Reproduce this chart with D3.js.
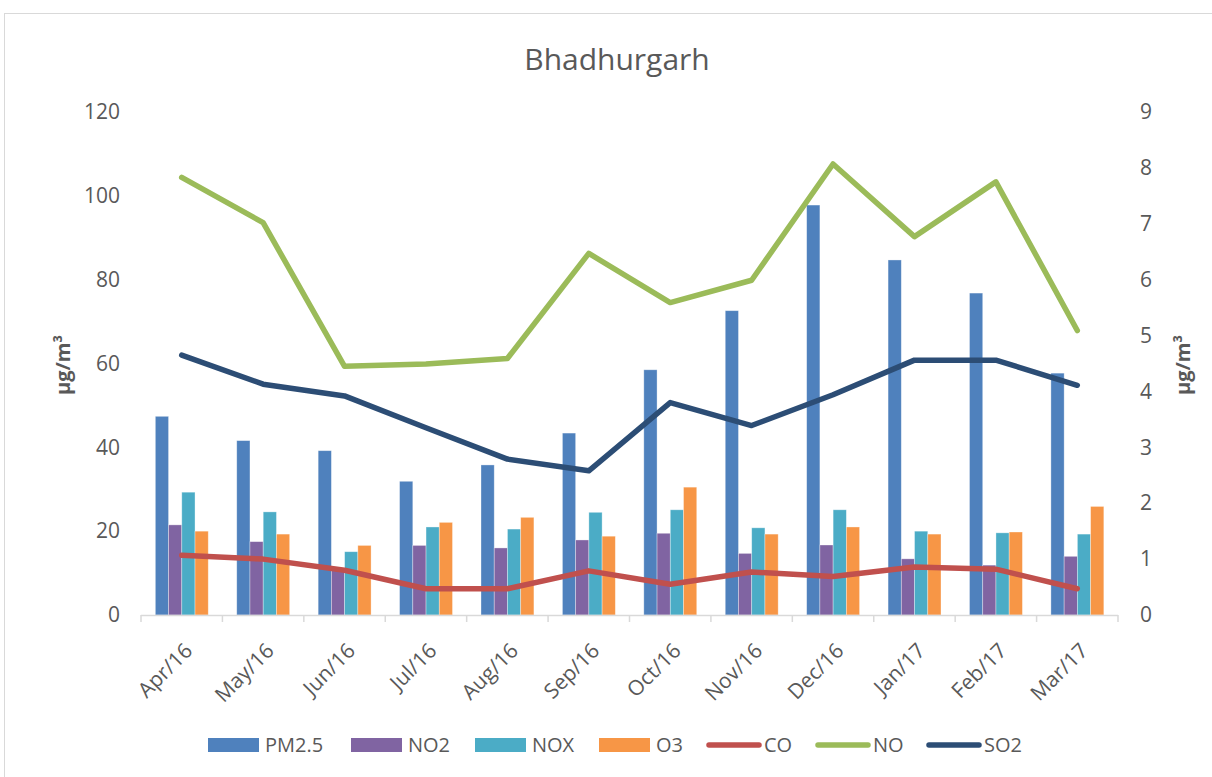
<!DOCTYPE html>
<html>
<head>
<meta charset="utf-8">
<script src="https://cdn.jsdelivr.net/npm/d3@7"></script>
<style>
  html, body { margin: 0; padding: 0; background: #fff; }
  svg { display: block; font-family: "Open Sans", sans-serif; }
</style>
</head>
<body>
<svg id="chart" width="1212" height="777"></svg>
<script>
// ---- data ----
const months = ["Apr/16","May/16","Jun/16","Jul/16","Aug/16","Sep/16","Oct/16","Nov/16","Dec/16","Jan/17","Feb/17","Mar/17"];
const pm25 = [47.4, 41.6, 39.2, 31.9, 35.8, 43.4, 58.5, 72.6, 97.8, 84.7, 76.8, 57.7];
const no2  = [21.5, 17.5, 11.0, 16.6, 16.0, 17.9, 19.5, 14.7, 16.7, 13.4, 11.9, 14.0];
const nox  = [29.3, 24.6, 15.1, 21.0, 20.5, 24.5, 25.1, 20.8, 25.1, 20.0, 19.6, 19.3];
const o3   = [20.0, 19.3, 16.6, 22.1, 23.3, 18.8, 30.5, 19.3, 21.0, 19.3, 19.8, 25.9];
const co   = [1.07, 1.00, 0.80, 0.47, 0.47, 0.79, 0.55, 0.77, 0.69, 0.86, 0.82, 0.47];
const no   = [7.83, 7.02, 4.45, 4.49, 4.59, 6.47, 5.59, 5.99, 8.07, 6.77, 7.75, 5.09];
const so2  = [4.65, 4.13, 3.92, 3.35, 2.79, 2.58, 3.80, 3.39, 3.94, 4.56, 4.56, 4.11];
const leftTicks = [0, 20, 40, 60, 80, 100, 120];
const rightTicks = [0, 1, 2, 3, 4, 5, 6, 7, 8, 9];
const barSeries = [
  {name: "PM2.5", values: pm25, color: "#4F81BD"},
  {name: "NO2",   values: no2,  color: "#8064A2"},
  {name: "NOX",   values: nox,  color: "#4BACC6"},
  {name: "O3",    values: o3,   color: "#F79646"}
];
const lineSeries = [
  {name: "CO",  values: co,  color: "#C0504D"},
  {name: "NO",  values: no,  color: "#9BBB59"},
  {name: "SO2", values: so2, color: "#2C4D75"}
];

// ---- layout ----
const svg = d3.select("#chart");
const plot = {left: 141, right: 1118, top: 112, bottom: 615};
const textColor = "#595959";

// frame
svg.append("rect").attr("x", 4.5).attr("y", 13.5).attr("width", 1230).attr("height", 800)
  .attr("fill", "none").attr("stroke", "#d9d9d9").attr("stroke-width", 1);

const x = d3.scaleBand().domain(months).range([plot.left, plot.right]).paddingInner(0).paddingOuter(0);
const xs = d3.scaleBand().domain(barSeries.map(d => d.name))
  .range([x.bandwidth() * 0.176, x.bandwidth() * 0.826]);
const yL = d3.scaleLinear().domain([0, 120]).range([plot.bottom, plot.top]);
const yR = d3.scaleLinear().domain([0, 9]).range([plot.bottom, plot.top]);

// title
svg.append("text").attr("x", 617).attr("y", 70).attr("text-anchor", "middle")
  .attr("font-size", 30).attr("fill", textColor).text("Bhadhurgarh");

// left axis
const axL = svg.append("g").attr("transform", `translate(${plot.left},0)`)
  .call(d3.axisLeft(yL).tickValues(leftTicks).tickSize(0).tickPadding(21));
axL.select(".domain").remove();
axL.selectAll("text").attr("font-size", 21).attr("fill", textColor).attr("font-family", "Open Sans, sans-serif");

// right axis
const axR = svg.append("g").attr("transform", `translate(${plot.right},0)`)
  .call(d3.axisRight(yR).tickValues(rightTicks).tickSize(0).tickPadding(22));
axR.select(".domain").remove();
axR.selectAll("text").attr("font-size", 21).attr("fill", textColor).attr("font-family", "Open Sans, sans-serif");

// axis titles
svg.append("text").attr("transform", "translate(70,365) rotate(-90)").attr("text-anchor", "middle")
  .attr("font-size", 20).attr("font-weight", "bold").attr("fill", textColor).text("µg/m³");
svg.append("text").attr("transform", "translate(1190,365) rotate(-90)").attr("text-anchor", "middle")
  .attr("font-size", 20).attr("font-weight", "bold").attr("fill", textColor).text("µg/m³");

// bars
const gBars = svg.append("g");
barSeries.forEach(s => {
  gBars.selectAll(null).data(s.values).enter().append("rect")
    .attr("x", (d, i) => x(months[i]) + xs(s.name))
    .attr("width", xs.bandwidth())
    .attr("y", d => yL(d))
    .attr("height", d => yL(0) - yL(d))
    .attr("fill", s.color)
    .attr("stroke", "#ffffff").attr("stroke-opacity", 0.45).attr("stroke-width", 0.75);
});

// x axis line and ticks
svg.append("line").attr("x1", plot.left).attr("x2", plot.right)
  .attr("y1", plot.bottom + 0.5).attr("y2", plot.bottom + 0.5)
  .attr("stroke", "#d9d9d9").attr("stroke-width", 1.5);
const boundaries = months.map(m => x(m)).concat([plot.right]);
svg.selectAll(null).data(boundaries).enter().append("line")
  .attr("x1", d => d).attr("x2", d => d)
  .attr("y1", plot.bottom).attr("y2", plot.bottom + 7)
  .attr("stroke", "#d9d9d9").attr("stroke-width", 1.5);

// x labels
svg.selectAll(null).data(months).enter().append("text")
  .attr("transform", d => `translate(${x(d) + x.bandwidth() / 2 + 12},${plot.bottom + 37}) rotate(-45)`)
  .attr("text-anchor", "end").attr("font-size", 21).attr("fill", textColor).text(d => d);

// lines
lineSeries.forEach(s => {
  const line = d3.line().x((d, i) => x(months[i]) + x.bandwidth() / 2).y(d => yR(d));
  svg.append("path").datum(s.values).attr("d", line)
    .attr("fill", "none").attr("stroke", s.color).attr("stroke-width", 5.5)
    .attr("stroke-linecap", "round").attr("stroke-linejoin", "round");
});

// legend
const legendY = 745;
const legendItems = [
  {name: "PM2.5", color: "#4F81BD", type: "bar", x: 208},
  {name: "NO2",   color: "#8064A2", type: "bar", x: 351},
  {name: "NOX",   color: "#4BACC6", type: "bar", x: 475},
  {name: "O3",    color: "#F79646", type: "bar", x: 599},
  {name: "CO",    color: "#C0504D", type: "line", x: 707},
  {name: "NO",    color: "#9BBB59", type: "line", x: 816},
  {name: "SO2",   color: "#2C4D75", type: "line", x: 927}
];
const lg = svg.append("g");
legendItems.forEach(it => {
  if (it.type === "bar") {
    lg.append("rect").attr("x", it.x).attr("y", legendY - 7).attr("width", 51).attr("height", 14).attr("fill", it.color);
  } else {
    lg.append("line").attr("x1", it.x + 2).attr("x2", it.x + 52).attr("y1", legendY).attr("y2", legendY)
      .attr("stroke", it.color).attr("stroke-width", 5.5).attr("stroke-linecap", "round");
  }
  lg.append("text").attr("x", it.x + 57).attr("y", legendY).attr("dy", "0.35em")
    .attr("font-size", 20).attr("fill", textColor).text(it.name);
});
</script>
</body>
</html>
